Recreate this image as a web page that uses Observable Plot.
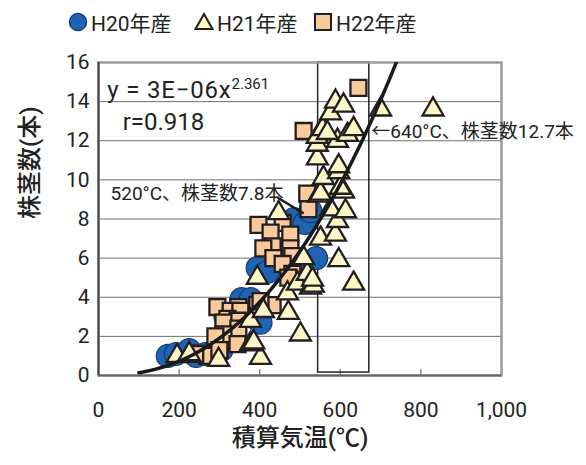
<!DOCTYPE html>
<html>
<head>
<meta charset="utf-8">
<script src="https://cdn.jsdelivr.net/npm/d3@7"></script>
<script src="https://cdn.jsdelivr.net/npm/@observablehq/plot@0.6"></script>
<style>
  body { margin: 0; background: #fff; font-family: Roboto, "Noto Sans CJK JP", sans-serif; }
  #legend { position: relative; width: 586px; height: 44px; font-size: 21px; color: #222; }
  #legend .item { position: absolute; top: 8px; display: flex; align-items: center; height: 28px; }
  #legend svg { margin-right: 3px; }
</style>
</head>
<body>
<div id="legend"></div>
<div id="chart"></div>
<script>
// Series: [integrated temperature (°C), tillers per plant]
const h20 = [
  [172, 1.0], [192, 1.1], [225, 1.3], [242, 1.0], [265, 1.1], [290, 1.3], [305, 1.3],
  [325, 1.8], [315, 3.0], [355, 3.9], [378, 3.9], [382, 3.0], [402, 2.7], [395, 5.5],
  [420, 5.3], [495, 5.5], [512, 5.8], [540, 6.0], [485, 8.0], [512, 7.8], [526, 8.4]
];
const h21 = [
  [195, 1.0], [225, 1.1], [298, 0.8], [402, 0.9], [377, 1.6], [385, 1.7], [377, 2.8],
  [409, 3.3], [471, 3.2], [501, 2.1], [469, 4.2], [494, 4.7], [394, 5.0], [526, 4.5],
  [518, 5.2], [509, 6.0], [447, 8.3], [533, 4.6], [531, 4.9], [596, 5.9], [633, 4.7],
  [551, 7.0], [588, 7.2], [593, 7.9], [576, 8.5], [613, 8.4], [546, 9.2], [608, 9.4],
  [600, 9.6], [551, 9.3], [558, 10.1], [596, 10.4], [596, 10.7], [543, 11.1], [543, 11.8],
  [543, 12.2], [593, 12.0], [618, 12.3], [633, 12.6], [556, 12.6], [568, 12.4], [576, 13.4],
  [588, 14.0], [608, 13.8], [700, 13.6], [830, 13.6]
];
const h22 = [
  [645, 14.7], [509, 12.5], [518, 9.3], [521, 8.5], [457, 7.8], [397, 7.7], [427, 7.3],
  [476, 7.2], [432, 6.6], [409, 6.5], [476, 6.5], [481, 6.1], [434, 6.0], [457, 5.7],
  [481, 5.2], [471, 5.0], [432, 3.6], [394, 3.6], [402, 3.8], [347, 3.5], [295, 3.5],
  [328, 3.3], [352, 3.3], [320, 2.9], [345, 2.8], [310, 2.7], [347, 2.4], [310, 2.1],
  [290, 2.0], [345, 1.6], [270, 1.0], [240, 1.1], [300, 1.3]
];

// Power trendline y = a·x^b
const coef = 2.7e-6;
const expo = 2.361;
const r = 0.918;

const xTicks = [0, 200, 400, 600, 800, 1000];
const yTicks = [0, 2, 4, 6, 8, 10, 12, 14, 16];
const gridY = [2, 4, 6, 8, 10, 12, 14];

// Range box around the 550–670 °C band
const band = [{x1: 545, x2: 672, y1: 0.15, y2: 16}];

const eqText = "y = " + coef.toExponential(0).replace(/e([+-])(\d)$/, (m, s, d) => "E" + (s === "-" ? "−" : "+") + "0" + d) + "x";
const notes = [
  {x: 22, y: 14.6, text: eqText, size: 24, spacing: "0.5px"},
  {x: 60, y: 12.93, text: "r=" + r.toFixed(3), size: 24, spacing: "0px"},
  {x: 30, y: 9.3, text: "520°C、株茎数7.8本", size: 19, spacing: "0px"},
  {x: 677, y: 12.47, text: "←640°C、株茎数12.7本", size: 19, spacing: "0px"}
];
const leaders = [{x1: 444, y1: 9.1, x2: 509, y2: 8.28}];

const curve = d3.range(100, 800, 4).map(x => ({x, y: coef * Math.pow(x, expo)}));

const series = [
  {name: "H20年産", symbol: "circle", fill: "#1f64b2", stroke: "#163a73"},
  {name: "H21年産", symbol: "triangle", fill: "#fdf6c6", stroke: "#231f20"},
  {name: "H22年産", symbol: "square", fill: "#f9cb9c", stroke: "#231f20"}
];

// Legend above the plot
const legendPos = [68, 194, 313];
const legend = document.getElementById("legend");
series.forEach((s, i) => {
  const item = document.createElement("div");
  item.className = "item";
  item.style.left = legendPos[i] + "px";
  const sym = s.symbol === "circle"
    ? `<circle cx="10" cy="10" r="8.5" fill="${s.fill}" stroke="${s.stroke}" stroke-width="1.5"/>`
    : s.symbol === "triangle"
    ? `<path d="M10,2 L18.5,17 L1.5,17 Z" fill="${s.fill}" stroke="${s.stroke}" stroke-width="2"/>`
    : `<rect x="2" y="2" width="16" height="16" fill="${s.fill}" stroke="${s.stroke}" stroke-width="2"/>`;
  item.innerHTML = `<svg width="20" height="20">${sym}</svg><span>${s.name}</span>`;
  legend.appendChild(item);
});

const chart = Plot.plot({
  width: 586,
  height: 421,
  marginTop: 18,
  marginBottom: 90,
  marginLeft: 98,
  marginRight: 85,
  style: {fontFamily: 'Roboto, "Noto Sans CJK JP", sans-serif', fontSize: "21px", color: "#222", background: "#fff"},
  x: {domain: [0, 1000]},
  y: {domain: [0, 16]},
  marks: [
    Plot.ruleY(gridY, {stroke: "#6e6e6e", strokeWidth: 1}),
    Plot.ruleX(xTicks.slice(1), {y1: 0, y2: 0.3, stroke: "#888", strokeWidth: 1.5}),
    Plot.rect(band, {x1: "x1", x2: "x2", y1: "y1", y2: "y2", fill: "none", stroke: "#222", strokeWidth: 1.5}),
    Plot.frame({stroke: "#9a9a9a", strokeWidth: 2.5}),
    Plot.ruleX([0], {stroke: "#444", strokeWidth: 2}),
    Plot.ruleY([0], {stroke: "#666", strokeWidth: 2}),
    Plot.dot(h20, {x: d => d[0], y: d => d[1], r: 11.5, fill: series[0].fill, stroke: series[0].stroke, strokeWidth: 1.2}),
    Plot.dot(h22, {x: d => d[0], y: d => d[1], symbol: "square", r: 9, fill: series[2].fill, stroke: series[2].stroke, strokeWidth: 2.3}),
    Plot.dot(h21, {x: d => d[0], y: d => d[1], symbol: "triangle", r: 7.8, fill: series[1].fill, stroke: series[1].stroke, strokeWidth: 2.3}),
    Plot.line(curve, {x: "x", y: "y", stroke: "#1a1a1a", strokeWidth: 3.5, clip: true}),
    Plot.link(leaders, {x1: "x1", y1: "y1", x2: "x2", y2: "y2", stroke: "#1a1a1a", strokeWidth: 2.5}),
    Plot.text(notes, {x: "x", y: "y", text: "text", fontSize: d => d.size, textAnchor: "start", fill: "#222"}),
    Plot.axisY(yTicks, {tickSize: 0, tickPadding: 9, label: null, fontSize: 21}),
    Plot.axisX(xTicks, {tickSize: 0, tickPadding: 27, tickFormat: d3.format(","), label: null, fontSize: 21}),
    Plot.text(["株茎数(本)"], {frameAnchor: "left", dx: -68, rotate: -90, fontSize: 24, fontWeight: 500, fill: "#222"}),
    Plot.text(["積算気温(℃)"], {frameAnchor: "bottom", dy: 70, fontSize: 24, fontWeight: 500, fill: "#222"})
  ]
});
document.getElementById("chart").appendChild(chart);

// Letter spacing and superscript exponent on the trendline equation
chart.querySelectorAll("text").forEach(t => {
  if (t.textContent === eqText) {
    t.setAttribute("letter-spacing", "0.8");
    const ts = document.createElementNS("http://www.w3.org/2000/svg", "tspan");
    ts.setAttribute("dy", "-0.6em");
    ts.setAttribute("font-size", "15");
    ts.setAttribute("letter-spacing", "0");
    ts.textContent = String(expo);
    t.appendChild(ts);
  }
});
</script>
</body>
</html>
